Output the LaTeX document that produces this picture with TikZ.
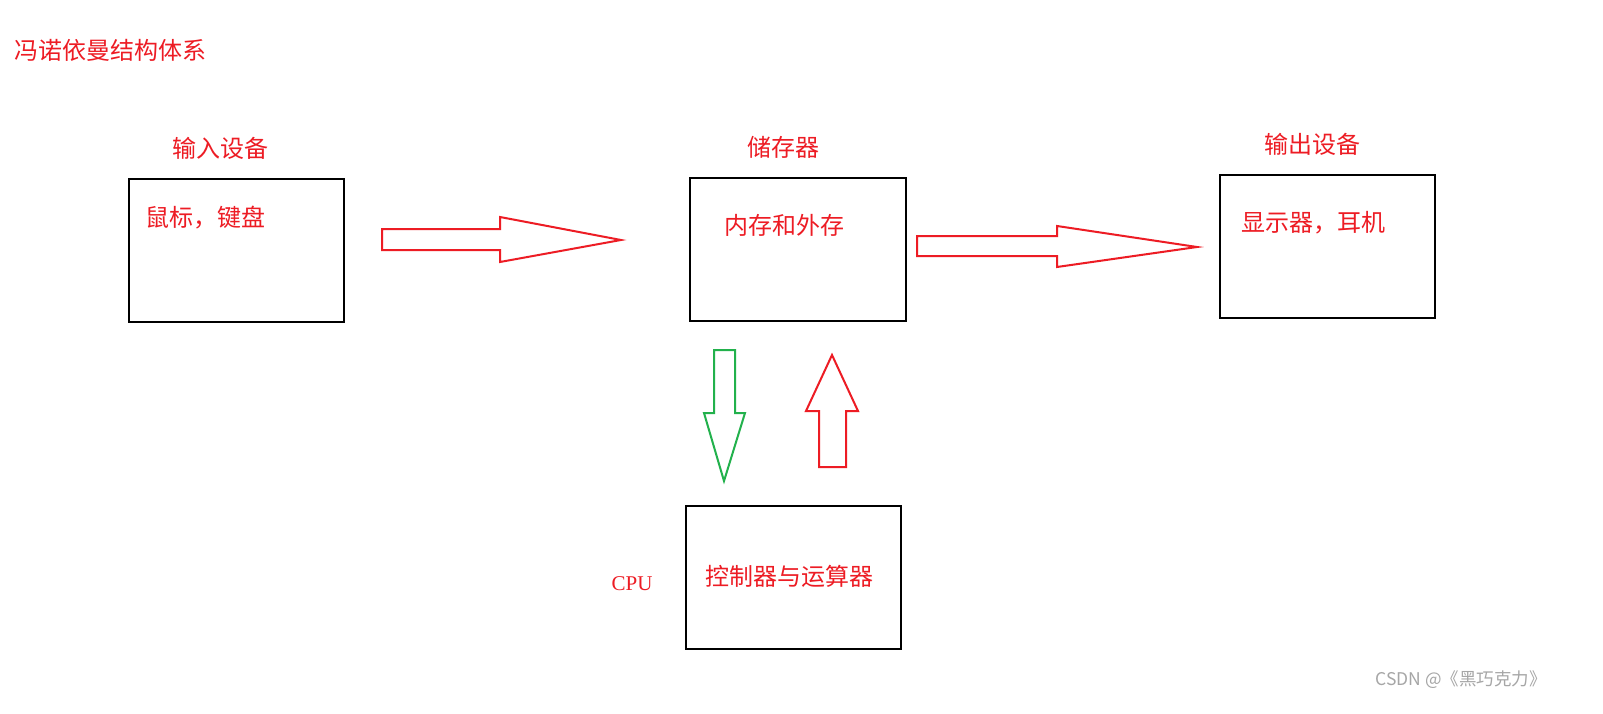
\documentclass[tikz,border=0pt]{standalone}
\usepackage{fontspec}
\newfontfamily\cjk{Noto Sans CJK SC}
\newfontfamily\serifL{Liberation Serif}
\definecolor{myred}{RGB}{237,28,36}
\definecolor{mygreen}{RGB}{34,177,76}
\begin{document}
\begin{tikzpicture}[x=1pt,y=-1pt,
  box/.style={draw=black,line width=2.2pt},
  lbl/.style={text=myred,font=\cjk\fontsize{24}{28}\selectfont,inner sep=0pt},
  arr/.style={line width=2pt,line join=miter}]
\useasboundingbox[fill=white] (0,0) rectangle (1603,714);
\node[lbl,anchor=west] (title) at (14,50) {冯诺依曼结构体系};
\draw[box] (129,179) rectangle (344,322); \coordinate (inbox) at (236,250);
\draw[box] (690,178) rectangle (906,321); \coordinate (membox) at (798,250);
\draw[box] (1220,175) rectangle (1435,318); \coordinate (outbox) at (1327,246);
\draw[box] (686,506) rectangle (901,649); \coordinate (cpubox) at (793,578);
\node[lbl] (inl) at (220,148) {输入设备};
\node[lbl,anchor=west] (int) at (145,218) {鼠标，键盘};
\node[lbl] (meml) at (783,147) {储存器};
\node[lbl] (memt) at (784,225) {内存和外存};
\node[lbl] (outl) at (1312,144) {输出设备};
\node[lbl,anchor=west] (outt) at (1241,223) {显示器，耳机};
\node[lbl] (cput) at (789,576) {控制器与运算器};
\node[text=myred,font=\serifL\fontsize{21}{24}\selectfont,inner sep=0pt] (cpu) at (632,584) {CPU};
\node[text=gray!70,font=\cjk\fontsize{17.5}{20}\selectfont,inner sep=0pt] (wm) at (1461,680) {CSDN @《黑巧克力》};
\draw[arr,myred] (382,229) -- (500,229) -- (500,217) -- (621,240) -- (500,262) -- (500,250) -- (382,250) -- cycle;
\draw[arr,myred] (917,236) -- (1057,236) -- (1057,226) -- (1197,247) -- (1057,267) -- (1057,256) -- (917,256) -- cycle;
\draw[arr,mygreen] (714,350) -- (735,350) -- (735,413) -- (745,413) -- (724,481) -- (704,413) -- (714,413) -- cycle;
\draw[arr,myred] (819,467) -- (846,467) -- (846,411) -- (858,411) -- (832,355) -- (806,411) -- (819,411) -- cycle;
\end{tikzpicture}
\end{document}
